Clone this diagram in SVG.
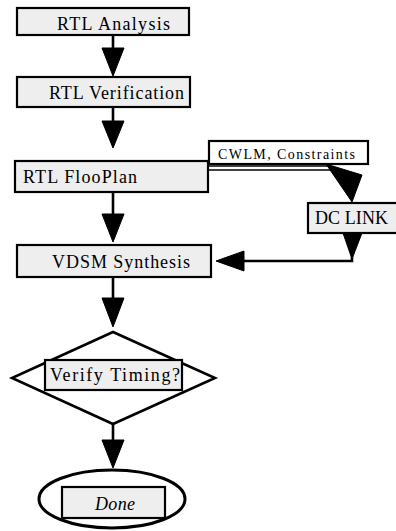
<svg xmlns="http://www.w3.org/2000/svg" width="396" height="531" viewBox="0 0 396 531">
<style>
.box{fill:#eeeeee;stroke:#000;stroke-width:2.2}
.lbl{font-family:"Liberation Serif","Times New Roman",serif;font-size:18px;fill:#000}
.line{stroke:#000;stroke-width:2.6;fill:none}
.head{fill:#000;stroke:#000;stroke-width:1}
.shape{fill:none;stroke:#000;stroke-width:2.6}
</style>
<rect width="396" height="531" fill="#fff"/>
<g id="connectors">
  <line class="line" x1="113" y1="35" x2="113" y2="50"/>
  <polygon class="head" points="102,48 124,48 113,76"/>
  <line class="line" x1="113" y1="107" x2="113" y2="123"/>
  <polygon class="head" points="102,121 124,121 113,148"/>
  <line class="line" x1="113" y1="192" x2="113" y2="216"/>
  <polygon class="head" points="102,214 124,214 113,242"/>
  <line class="line" x1="113" y1="277" x2="113" y2="300"/>
  <polygon class="head" points="102,298 124,298 113,327"/>
  <line class="line" x1="113" y1="424" x2="113" y2="442"/>
  <polygon class="head" points="102,440 124,440 113,468"/>
  <line x1="208" y1="166" x2="330" y2="166" stroke="#000" stroke-width="1.6"/>
  <line x1="208" y1="170" x2="330" y2="170" stroke="#000" stroke-width="1.6"/>
  <polygon class="head" points="326,164 362,175 352,202"/>
  <polygon class="head" points="343,233 362,233 352,259"/>
  <polyline class="line" points="352,256 352,261 242,261"/>
  <polygon class="head" points="244,251 244,271 216,261"/>
</g>
<g id="rtl-analysis">
  <rect class="box" x="17" y="8" width="172" height="27"/>
  <text class="lbl" x="57" y="30" textLength="113" lengthAdjust="spacing">RTL Analysis</text>
</g>
<g id="rtl-verification">
  <rect class="box" x="17" y="77" width="173" height="30"/>
  <text class="lbl" x="49" y="99" textLength="135" lengthAdjust="spacing">RTL Verification</text>
</g>
<g id="rtl-flooplan">
  <rect class="box" x="15" y="161" width="193" height="31"/>
  <text class="lbl" x="23" y="183" textLength="114" lengthAdjust="spacing">RTL FlooPlan</text>
</g>
<g id="cwlm-constraints">
  <rect class="box" x="209" y="141" width="159" height="23" style="fill:#fff"/>
  <text class="lbl" x="218" y="159" textLength="137" lengthAdjust="spacing" style="font-size:14px">CWLM, Constraints</text>
</g>
<g id="dc-link">
  <rect class="box" x="308" y="203" width="90" height="30"/>
  <text class="lbl" x="315" y="224" textLength="73" lengthAdjust="spacing">DC LINK</text>
</g>
<g id="vdsm-synthesis">
  <rect class="box" x="17" y="245" width="194" height="32"/>
  <text class="lbl" x="52" y="268" textLength="138" lengthAdjust="spacing">VDSM Synthesis</text>
</g>
<g id="verify-timing">
  <polygon class="shape" points="113,332 215,378 113,424 12,378" style="fill:#fff"/>
  <rect class="box" x="45" y="360" width="137" height="30"/>
  <text class="lbl" x="50" y="381" textLength="130" lengthAdjust="spacing">Verify Timing?</text>
</g>
<g id="done">
  <ellipse class="shape" cx="112" cy="499" rx="73" ry="29" style="stroke-width:3"/>
  <rect class="box" x="62" y="487" width="103" height="31"/>
  <text class="lbl" x="95" y="510" textLength="40" lengthAdjust="spacing" style="font-style:italic">Done</text>
</g>
</svg>
